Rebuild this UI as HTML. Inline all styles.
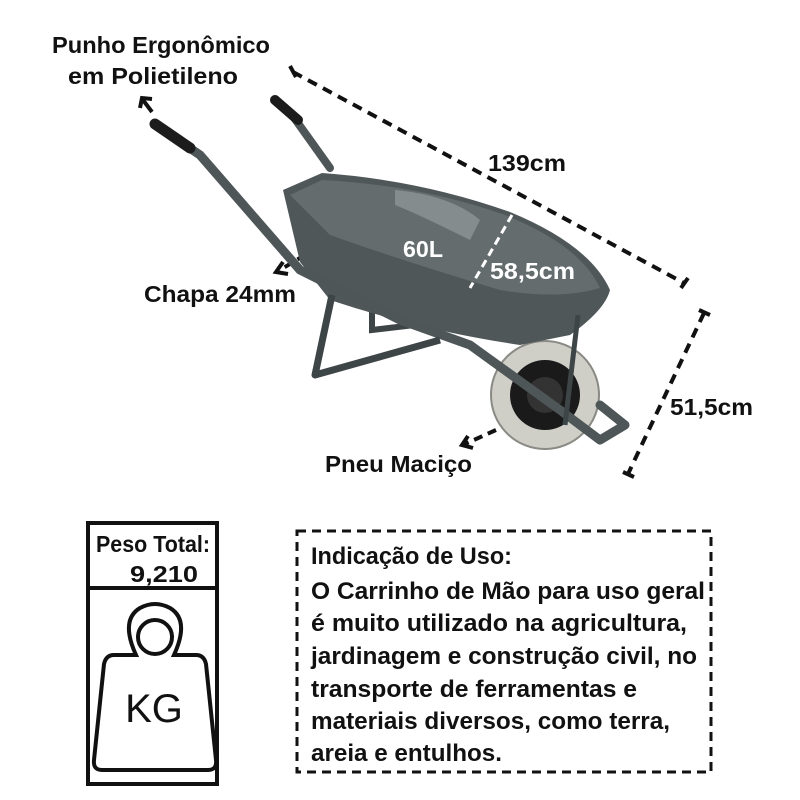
<!DOCTYPE html>
<html><head><meta charset="utf-8"><style>
html,body{margin:0;padding:0;background:#fff;}
svg{display:block;}
text{font-family:"Liberation Sans","DejaVu Sans",sans-serif;font-weight:bold;fill:#111;}
</style></head><body>
<svg width="800" height="800" viewBox="0 0 800 800" xmlns="http://www.w3.org/2000/svg">
<g stroke="#111" stroke-width="4" fill="none">
<line x1="293" y1="72" x2="684" y2="283" stroke-dasharray="10,7"/>
<line x1="290" y1="66" x2="296" y2="77"/>
<line x1="681" y1="288" x2="688" y2="278"/>
<line x1="704" y1="313" x2="628" y2="474" stroke-dasharray="10,7"/>
<line x1="699" y1="310" x2="710" y2="315"/>
<line x1="623" y1="472" x2="634" y2="477"/>
<line x1="152" y1="112" x2="143" y2="100"/>
<polyline points="140,108 142,98 152,99"/>
<line x1="318" y1="247" x2="280" y2="270" stroke-dasharray="9,6"/>
<polyline points="283,262 276,272 288,274"/>
<line x1="496" y1="430" x2="465" y2="444" stroke-dasharray="9,6"/>
<polyline points="468,436 462,445 473,448"/>
</g>
<g>
<line x1="290" y1="112" x2="330" y2="168" stroke="#4e5658" stroke-width="8" stroke-linecap="round"/>
<line x1="275" y1="100" x2="298" y2="120" stroke="#1c1c1c" stroke-width="10" stroke-linecap="round"/>
<polyline points="372,310 372,330 440,322" stroke="#3e4547" stroke-width="6" fill="none"/>
<circle cx="545" cy="395" r="54" fill="#cfcfc8" stroke="#8a8a85" stroke-width="2"/>
<circle cx="545" cy="395" r="35" fill="#1a1a1a"/>
<circle cx="545" cy="395" r="18" fill="#333"/>
<path d="M283,190 L322,173 Q420,180 510,212 Q590,245 610,290 Q605,310 570,335 L520,345 Q420,330 330,300 L300,262 Z" fill="#4f5759"/>
<path d="M290,195 L322,180 Q420,185 505,215 Q580,245 600,288 Q560,300 500,290 Q400,260 330,235 Z" fill="#646c6e"/>
<path d="M395,190 Q450,195 480,220 L470,240 Q420,215 395,205 Z" fill="#9aa2a4" opacity="0.6"/>
<polyline points="160,128 200,155 300,270 400,320 470,345 560,410 600,440 625,425 600,405" stroke="#4e5658" stroke-width="9" fill="none" stroke-linejoin="round" stroke-linecap="round"/>
<line x1="155" y1="124" x2="190" y2="148" stroke="#1c1c1c" stroke-width="11" stroke-linecap="round"/>
<polyline points="332,295 315,375 440,340" stroke="#3e4547" stroke-width="7" fill="none" stroke-linejoin="round"/>
<line x1="578" y1="315" x2="565" y2="425" stroke="#3e4547" stroke-width="5"/>
</g>
<line x1="512" y1="215" x2="470" y2="288" stroke="#fff" stroke-width="3" stroke-dasharray="8,5"/>
<g font-size="23">
<text x="52" y="53" textLength="218" lengthAdjust="spacingAndGlyphs">Punho Ergonômico</text>
<text x="68" y="84" textLength="170" lengthAdjust="spacingAndGlyphs">em Polietileno</text>
<text x="488" y="171" textLength="78" lengthAdjust="spacingAndGlyphs">139cm</text>
<text x="403" y="257" textLength="40" lengthAdjust="spacingAndGlyphs" style="fill:#fff">60L</text>
<text x="490" y="279" textLength="85" lengthAdjust="spacingAndGlyphs" style="fill:#fff">58,5cm</text>
<text x="144" y="302" textLength="152" lengthAdjust="spacingAndGlyphs">Chapa 24mm</text>
<text x="670" y="415" textLength="83" lengthAdjust="spacingAndGlyphs">51,5cm</text>
<text x="325" y="472" textLength="147" lengthAdjust="spacingAndGlyphs">Pneu Maciço</text>
</g>
<rect x="88" y="523" width="129" height="261" fill="none" stroke="#111" stroke-width="4"/>
<line x1="88" y1="588" x2="217" y2="588" stroke="#111" stroke-width="4"/>
<text x="96" y="552" font-size="23" textLength="114" lengthAdjust="spacingAndGlyphs">Peso Total:</text>
<text x="130" y="582" font-size="23" textLength="68" lengthAdjust="spacingAndGlyphs">9,210</text>
<g stroke="#111" stroke-width="4" fill="none">
<circle cx="155" cy="637" r="17"/>
<path d="M136,655 Q120,620 140,608 Q155,600 170,608 Q190,620 174,655 L196,655 Q204,655 206,664 L216,760 Q217,770 208,770 L102,770 Q93,770 94,760 L104,664 Q106,655 114,655 Z"/>
</g>
<text x="154" y="722" font-size="40" text-anchor="middle" style="font-weight:normal">KG</text>
<rect x="297" y="531" width="414" height="241" fill="none" stroke="#111" stroke-width="3" stroke-dasharray="9,6"/>
<g font-size="24">
<text x="311" y="564" textLength="201" lengthAdjust="spacingAndGlyphs">Indicação de Uso:</text>
<text x="311" y="599" textLength="394" lengthAdjust="spacingAndGlyphs">O Carrinho de Mão para uso geral</text>
<text x="311" y="631" textLength="376" lengthAdjust="spacingAndGlyphs">é muito utilizado na agricultura,</text>
<text x="311" y="664" textLength="386" lengthAdjust="spacingAndGlyphs">jardinagem e construção civil, no</text>
<text x="311" y="697" textLength="326" lengthAdjust="spacingAndGlyphs">transporte de ferramentas e</text>
<text x="311" y="729" textLength="359" lengthAdjust="spacingAndGlyphs">materiais diversos, como terra,</text>
<text x="311" y="761" textLength="191" lengthAdjust="spacingAndGlyphs">areia e entulhos.</text>
</g>
</svg>
</body></html>
